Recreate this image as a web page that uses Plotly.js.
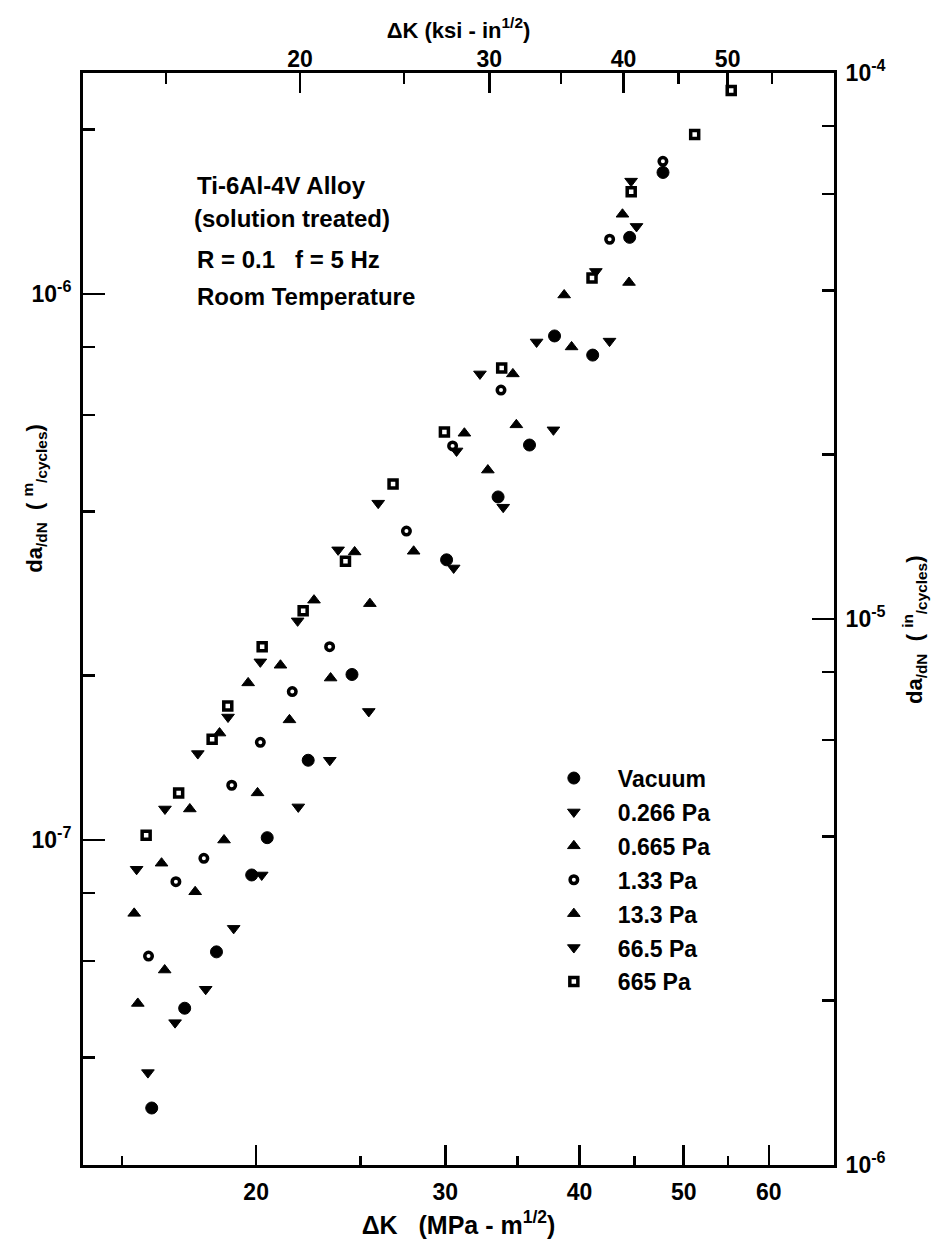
<!DOCTYPE html>
<html>
<head>
<meta charset="utf-8">
<script src="https://cdn.plot.ly/plotly-3.0.1.min.js"></script>
<style>html,body{margin:0;padding:0;background:#fff}</style>
</head>
<body>
<div id="chart" style="width:947px;height:1248px"></div>
<script>
// Fatigue crack growth of Ti-6Al-4V at several gas pressures.
// dK in MPa*m^1/2, rate in m/cycle.
const vacuumDK   = [15.99, 17.16, 18.37, 19.81, 20.48, 22.36, 24.56, 30.08, 33.59, 35.93, 37.91, 41.14, 44.53, 47.83];
const vacuumRate = [3.23e-8, 4.92e-8, 6.24e-8, 8.63e-8, 1.01e-7, 1.40e-7, 2.01e-7, 3.26e-7, 4.25e-7, 5.29e-7, 8.38e-7, 7.73e-7, 1.27e-6, 1.67e-6];

const p0266DK   = [15.86, 16.81, 17.95, 19.06, 20.24, 21.89, 23.42, 25.46, 30.54, 33.96, 37.82, 42.65, 45.19];
const p0266Rate = [3.75e-8, 4.63e-8, 5.33e-8, 6.89e-8, 8.63e-8, 1.15e-7, 1.40e-7, 1.72e-7, 3.15e-7, 4.07e-7, 5.64e-7, 8.20e-7, 1.33e-6];

const p0665DK   = [15.52, 16.44, 17.55, 18.67, 20.06, 21.48, 23.46, 25.52, 28.03, 32.86, 34.93, 39.32, 44.47];
const p0665Rate = [5.02e-8, 5.78e-8, 8.04e-8, 1.00e-7, 1.22e-7, 1.66e-7, 1.98e-7, 2.71e-7, 3.38e-7, 4.76e-7, 5.76e-7, 8.00e-7, 1.05e-6];

const p133DK   = [15.88, 16.84, 17.88, 18.98, 20.18, 21.61, 23.41, 27.60, 30.47, 33.80, 42.66, 47.82];
const p133Rate = [6.13e-8, 8.39e-8, 9.26e-8, 1.26e-7, 1.51e-7, 1.87e-7, 2.26e-7, 3.68e-7, 5.27e-7, 6.67e-7, 1.26e-6, 1.75e-6];

const p133kDK   = [15.40, 16.33, 17.35, 18.49, 19.66, 21.07, 22.64, 24.70, 31.25, 34.67, 38.70, 43.85];
const p133kRate = [7.34e-8, 9.07e-8, 1.14e-7, 1.57e-7, 1.94e-7, 2.09e-7, 2.75e-7, 3.37e-7, 5.56e-7, 7.14e-7, 9.96e-7, 1.40e-6];

const p665DK   = [15.48, 16.45, 17.65, 18.83, 20.18, 21.86, 23.84, 25.98, 30.73, 32.31, 36.48, 41.42, 44.67];
const p665Rate = [8.84e-8, 1.14e-7, 1.44e-7, 1.68e-7, 2.12e-7, 2.52e-7, 3.40e-7, 4.14e-7, 5.16e-7, 7.14e-7, 8.17e-7, 1.10e-6, 1.61e-6];

const p665hDK   = [15.80, 16.94, 18.20, 18.82, 20.26, 22.12, 24.22, 26.82, 29.94, 33.85, 41.08, 44.68, 51.19, 55.36];
const p665hRate = [1.02e-7, 1.22e-7, 1.53e-7, 1.76e-7, 2.26e-7, 2.63e-7, 3.24e-7, 4.49e-7, 5.59e-7, 7.32e-7, 1.07e-6, 1.54e-6, 1.96e-6, 2.36e-6];

const seriesNames = ['Vacuum', '0.266 Pa', '0.665 Pa', '1.33 Pa', '13.3 Pa', '66.5 Pa', '665 Pa'];

// axis ticks
const dkMajor = [20, 30, 40, 50, 60];
const dkMinor = [15, 25, 35, 45, 55];
const ksiMajor = [20, 30, 40, 50];
const ksiMinor = [15, 25, 35, 45, 55];
const mMajor = [1e-7, 1e-6];
const mMajorText = ['10<sup>-7</sup>', '10<sup>-6</sup>'];
const mMinor = [4e-8, 6e-8, 8e-8, 2e-7, 4e-7, 6e-7, 8e-7, 2e-6];
const inMajor = [1e-6, 1e-5, 1e-4];
const inMajorText = ['10<sup>-6</sup>', '10<sup>-5</sup>', '10<sup>-4</sup>'];
const inMinor = [2e-6, 4e-6, 6e-6, 8e-6, 2e-5, 4e-5, 6e-5, 8e-5];

const KSI_TO_MPA = 1.0988;   // 1 ksi*in^1/2 = 1.0988 MPa*m^1/2
const IN_TO_M = 0.0254;
const dkRange = [13.8, 69.0];
const rateRange = [2.54e-8, 2.54e-6];

const FAMILY = 'Liberation Sans, Arial, sans-serif';
const font = (size) => ({family: FAMILY, size: size, color: '#000', weight: 'bold'});

function pts(name, xs, ys, marker) {
  return {type: 'scatter', mode: 'markers', name: name, x: xs, y: ys,
          marker: marker, legendgroup: name, cliponaxis: false};
}
const fillMk = (sym, size) => ({symbol: sym, size: size, color: '#000', line: {color: '#000', width: 1}});
const ringMk = (sym, size) => ({symbol: sym, size: size, color: '#fff', line: {color: '#000', width: 3.5}});

const traces = [
  pts(seriesNames[0], vacuumDK, vacuumRate, fillMk('circle', 12)),
  pts(seriesNames[1], p0266DK, p0266Rate, fillMk('triangle-down', 11)),
  pts(seriesNames[2], p0665DK, p0665Rate, fillMk('triangle-up', 11)),
  pts(seriesNames[3], p133DK, p133Rate, ringMk('circle', 7.5)),
  pts(seriesNames[4], p133kDK, p133kRate, fillMk('triangle-up', 11)),
  pts(seriesNames[5], p665DK, p665Rate, fillMk('triangle-down', 11)),
  pts(seriesNames[6], p665hDK, p665hRate, ringMk('square', 8)),
  // carriers for the secondary (ksi and in/cycle) axes
  {type: 'scatter', mode: 'markers', x: [], y: [], xaxis: 'x2', yaxis: 'y', showlegend: false, hoverinfo: 'skip'},
  {type: 'scatter', mode: 'markers', x: [], y: [], xaxis: 'x', yaxis: 'y2', showlegend: false, hoverinfo: 'skip'}
];

const lg = Math.log10;
const axisCommon = {
  type: 'log', showgrid: false, zeroline: false, showline: true,
  linecolor: '#000', linewidth: 3, ticks: 'inside', tickcolor: '#000',
  tickwidth: 2.5, tickfont: font(23), fixedrange: true
};
const minorTicks = (vals, len) => ({tickvals: vals, ticklen: len, tickwidth: 2.5, tickcolor: '#000', ticks: 'inside'});

const layout = {
  width: 947, height: 1248,
  margin: {l: 83, r: 113, t: 73, b: 83},
  paper_bgcolor: '#fff', plot_bgcolor: '#fff',
  font: font(22),
  showlegend: true,
  legend: {
    x: 0.595, y: 0.374, xanchor: 'left', yanchor: 'top',
    font: font(23),
    traceorder: 'grouped', tracegroupgap: 1, itemwidth: 78,
    bgcolor: 'rgba(0,0,0,0)', borderwidth: 0
  },
  xaxis: Object.assign({}, axisCommon, {
    range: [lg(dkRange[0]), lg(dkRange[1])],
    tickvals: dkMajor, ticktext: dkMajor.map(String), ticklen: 20,
    minor: minorTicks(dkMinor, 9),
    ticklabelstandoff: 4,
    title: {text: '\u0394K   (MPa - m<sup>1/2</sup>)', font: font(25), standoff: 13}
  }),
  xaxis2: Object.assign({}, axisCommon, {
    overlaying: 'x', side: 'top', anchor: 'y',
    range: [lg(dkRange[0] / KSI_TO_MPA), lg(dkRange[1] / KSI_TO_MPA)],
    tickvals: ksiMajor, ticktext: ksiMajor.map(String), ticklen: 20,
    minor: minorTicks(ksiMinor, 11),
    ticklabelstandoff: -6,
    title: {text: '\u0394K (ksi - in<sup>1/2</sup>)', font: font(22), standoff: 2}
  }),
  yaxis: Object.assign({}, axisCommon, {
    range: [lg(rateRange[0]), lg(rateRange[1])],
    tickvals: mMajor, ticktext: mMajorText, ticklen: 22,
    minor: minorTicks(mMinor, 12),
    ticklabelstandoff: 4
  }),
  yaxis2: Object.assign({}, axisCommon, {
    overlaying: 'y', side: 'right', anchor: 'x',
    range: [lg(rateRange[0] / IN_TO_M), lg(rateRange[1] / IN_TO_M)],
    tickvals: inMajor, ticktext: inMajorText, ticklen: 22,
    minor: minorTicks(inMinor, 12),
    ticklabelstandoff: 4
  }),
  annotations: [
    {text: 'Ti-6Al-4V Alloy', x: 0.149, y: 0.8974},
    {text: '(solution treated)', x: 0.145, y: 0.8672},
    {text: 'R = 0.1   f = 5 Hz', x: 0.149, y: 0.8288},
    {text: 'Room Temperature', x: 0.149, y: 0.7949},
    // rate axis titles, rotated
    {text: 'da<sub>/dN</sub>  ( <sup>m</sup><sub>/cycles</sub>)', x: -0.064, y: 0.611,
     xanchor: 'center', textangle: -90, font: font(22)},
    {text: 'da<sub>/dN</sub>  ( <sup>in</sup><sub>/cycles</sub>)', x: 1.108, y: 0.49,
     xanchor: 'center', textangle: -90, font: font(22)}
  ].map(a => Object.assign({xref: 'paper', yref: 'paper', xanchor: 'left', yanchor: 'middle',
                            showarrow: false, font: font(24)}, a))
};

Plotly.newPlot('chart', traces, layout, {staticPlot: true, displayModeBar: false}).then(gd => {
  // give every svg text an explicit font-size attribute as well as the inline style
  gd.querySelectorAll('svg text').forEach(t => {
    const fs = t.style.fontSize || window.getComputedStyle(t).fontSize;
    if (fs) t.setAttribute('font-size', parseFloat(fs));
  });
});
</script>
</body>
</html>
